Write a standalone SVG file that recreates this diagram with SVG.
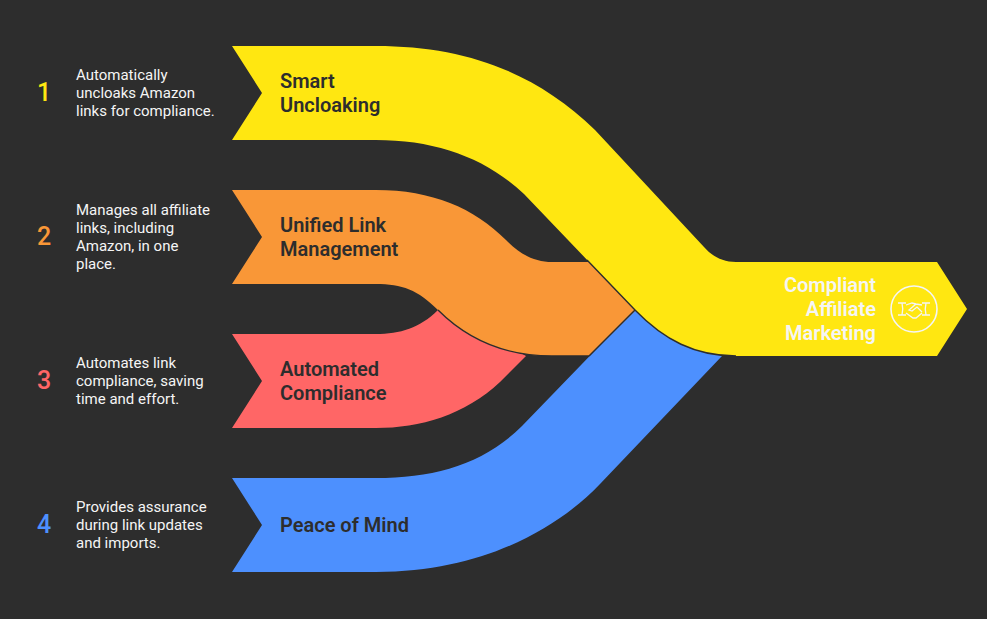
<svg xmlns="http://www.w3.org/2000/svg" width="987" height="619" viewBox="0 0 987 619">
<style>
.d{font-family:Roboto,"Liberation Sans",sans-serif;font-size:15px;fill:#f5f5f5}
.n{font-family:Roboto,"Liberation Sans",sans-serif;font-size:25px;font-weight:500}
.h{font-family:Roboto,"Liberation Sans",sans-serif;font-size:20px;font-weight:600;fill:#2d2d2d}
.w{font-family:Roboto,"Liberation Sans",sans-serif;font-size:20px;font-weight:600;fill:#f5f5f5;text-anchor:end}
.s{stroke:#2d2d2d;stroke-width:1.4}
</style>
<rect width="987" height="619" fill="#2d2d2d"/>
<g id="connectors">
<path id="band-4" fill="#4d90fe" d="M232,478 L376,478 C435,478 484,464 522,426 L640,304 L730,350 L722,356 L600,484 C562,524 488,572 376,572 L232,572 L262,525 Z"/>
<path id="band-3" fill="#ff6666" d="M232,334 L376,334 C400,334 420,328 438,310 L480,330 L526,356 L500,382 C465,415 420,428 376,428 L232,428 L262,381 Z"/>
<path id="band-2" fill="#f99737" d="M232,190 L376,190 C432,190 474,208 506,240 C522,256 536,262 552,262 L590,262 L640,306 L589,356 L552,356 C505,356 468,340 438,310 C418,290 402,284 376,284 L232,284 L262,237 Z"/>
<path fill="none" class="s" d="M589,356 L552,356 C505,356 468,340 438,310"/>
<path fill="none" class="s" d="M589,356 L635,310"/>
<path id="band-1" fill="#ffe711" d="M232,46 L376,46 C465,46 535,72 595,130 L704,247 C712,256 722,262 736,262 L937,262 L967,309 L937,356 L736,356 C695,356 664,340 635,310 L524,194 C486,158 436,140 376,140 L232,140 L262,93 Z"/>
<path fill="none" class="s" d="M736,356 C695,356 664,340 635,310 L587,260"/>
</g>
<g id="node-1">
<text class="n" x="37" y="101" fill="#ffe711">1</text>
<text class="d"><tspan x="76" y="80">Automatically</tspan><tspan x="76" y="98">uncloaks Amazon</tspan><tspan x="76" y="116">links for compliance.</tspan></text>
<text class="h"><tspan x="280" y="88">Smart</tspan><tspan x="280" y="112">Uncloaking</tspan></text>
</g>
<g id="node-2">
<text class="n" x="37" y="245" fill="#f99737">2</text>
<text class="d"><tspan x="76" y="215">Manages all affiliate</tspan><tspan x="76" y="233">links, including</tspan><tspan x="76" y="251">Amazon, in one</tspan><tspan x="76" y="269">place.</tspan></text>
<text class="h"><tspan x="280" y="232">Unified Link</tspan><tspan x="280" y="256">Management</tspan></text>
</g>
<g id="node-3">
<text class="n" x="37" y="389" fill="#ff6666">3</text>
<text class="d"><tspan x="76" y="368">Automates link</tspan><tspan x="76" y="386">compliance, saving</tspan><tspan x="76" y="404">time and effort.</tspan></text>
<text class="h"><tspan x="280" y="376">Automated</tspan><tspan x="280" y="400">Compliance</tspan></text>
</g>
<g id="node-4">
<text class="n" x="37" y="533" fill="#4d90fe">4</text>
<text class="d"><tspan x="76" y="512">Provides assurance</tspan><tspan x="76" y="530">during link updates</tspan><tspan x="76" y="548">and imports.</tspan></text>
<text class="h" x="280" y="532">Peace of Mind</text>
</g>
<g id="node-target">
<text class="w"><tspan x="876" y="292">Compliant</tspan><tspan x="876" y="316">Affiliate</tspan><tspan x="876" y="340">Marketing</tspan></text>
<g fill="none" stroke="#f5f5f5">
<circle cx="914" cy="309" r="23" stroke-width="1.6"/>
<path stroke-width="1.3" d="M898,303 H906 M922,303 H930 M898,315 H906 M922,315 H930 M902,303 C903,307 903,311 902,315 M926,303 C925,307 925,311 926,315 M906,305 L912,303 L916,304 L922,305 M906,313 L913,318 L916,318 L922,313 M916,304 L909,310 L912,311 L917,307 L922,312"/>
</g>
</g>
</svg>
